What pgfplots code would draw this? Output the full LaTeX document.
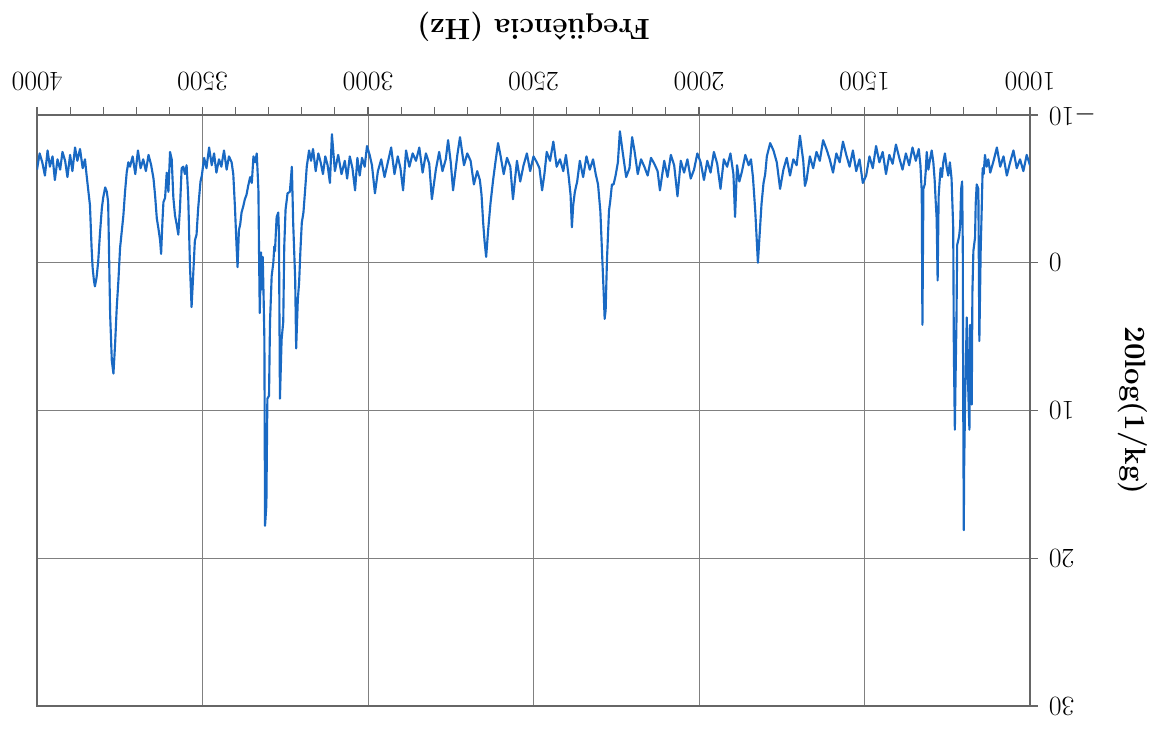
\documentclass[border=0pt]{standalone}
\usepackage{pgfplots}
\pgfplotsset{compat=1.18}
\usepackage{pgfplotstable}
\definecolor{lineblue}{RGB}{25,105,195}
\pgfplotstableread{
f y
1000 -6.6
1010 -7.3
1020 -6.2
1030 -7.0
1040 -6.4
1050 -7.6
1060 -6.8
1070 -5.9
1080 -7.2
1090 -6.5
1100 -7.8
1110 -6.9
1120 -6.1
1126 -7.0
1131 -6.5
1136 -7.3
1140 -6.0
1143 -6.4
1146 -3.5
1149 -0.8
1153 5.3
1156 -5.0
1161 -5.3
1164 -4.0
1166 -1.7
1171 -0.8
1174 2.0
1176 9.6
1179 6.0
1181 4.2
1183 11.3
1186 9.1
1191 3.7
1196 9.3
1199 14.0
1200 18.1
1202 8.0
1203 -1.0
1205 -5.5
1208 -5.0
1211 -2.5
1214 -1.8
1217 -1.5
1220 -1.2
1222 3.7
1225 8.0
1227 11.3
1230 6.0
1232 -2.4
1237 -5.7
1242 -6.8
1247 -5.9
1252 -6.5
1257 -7.4
1262 -6.8
1266 -5.8
1270 -6.4
1273 -5.5
1276 -4.5
1279 1.2
1282 -3.0
1285 -4.2
1288 -5.6
1292 -6.8
1297 -7.6
1302 -7.0
1307 -6.3
1312 -7.5
1315 -6.2
1318 -5.3
1322 -5.0
1325 4.2
1327 -4.8
1331 -6.6
1336 -7.7
1345 -6.9
1355 -7.8
1365 -6.6
1375 -7.4
1385 -6.3
1395 -7.1
1405 -8.0
1415 -6.7
1425 -7.3
1435 -6.0
1445 -7.5
1455 -6.8
1465 -7.9
1475 -6.4
1485 -7.2
1495 -5.9
1505 -5.4
1515 -7.0
1525 -6.2
1535 -7.6
1545 -6.5
1555 -7.3
1565 -8.2
1575 -6.8
1585 -7.4
1595 -6.1
1605 -7.0
1615 -7.7
1625 -8.3
1635 -6.9
1645 -7.5
1655 -6.4
1665 -7.2
1675 -5.6
1680 -5.2
1685 -6.9
1695 -8.6
1705 -6.6
1715 -7.0
1725 -5.9
1735 -7.1
1745 -6.3
1755 -5.0
1765 -6.8
1775 -7.6
1785 -8.1
1795 -7.2
1800 -6.0
1805 -5.4
1811 -4.0
1816 -2.2
1822 0.0
1825 -1.3
1830 -3.5
1837 -5.8
1843 -7.0
1850 -6.6
1860 -7.3
1870 -6.2
1878 -5.5
1885 -6.6
1891 -3.1
1896 -6.0
1905 -7.4
1915 -6.5
1925 -7.0
1935 -5.0
1945 -6.7
1955 -7.5
1965 -6.1
1975 -6.9
1985 -5.6
1995 -6.8
2005 -7.4
2015 -6.3
2025 -5.7
2035 -7.0
2045 -6.1
2055 -6.9
2065 -4.5
2075 -6.6
2085 -7.3
2095 -5.8
2105 -6.9
2118 -4.9
2125 -6.2
2135 -6.7
2145 -7.1
2155 -5.9
2165 -6.5
2175 -7.0
2185 -6.0
2195 -7.6
2202 -8.5
2210 -6.4
2220 -5.8
2230 -7.4
2239 -8.9
2245 -6.8
2252 -5.9
2258 -5.3
2263 -5.3
2268 -4.2
2272 -3.5
2278 -0.2
2282 3.2
2285 3.8
2288 2.0
2292 -0.2
2298 -3.5
2305 -5.3
2312 -6.0
2320 -7.0
2330 -6.3
2340 -7.2
2350 -5.8
2360 -6.9
2368 -5.5
2375 -4.8
2380 -3.9
2384 -2.4
2388 -4.6
2394 -5.9
2402 -7.3
2410 -6.2
2420 -7.0
2430 -6.5
2440 -8.2
2450 -6.9
2460 -7.5
2467 -6.0
2474 -4.9
2482 -6.4
2490 -6.8
2500 -7.2
2510 -6.2
2520 -7.4
2530 -6.6
2540 -5.5
2550 -6.9
2562 -4.3
2570 -6.5
2580 -7.1
2590 -6.0
2600 -7.3
2607 -8.1
2615 -6.8
2622 -5.6
2630 -4.0
2637 -2.2
2643 -0.4
2648 -1.5
2652 -2.7
2657 -4.6
2662 -5.6
2670 -6.2
2680 -5.3
2690 -6.9
2700 -7.4
2710 -6.6
2722 -8.5
2730 -7.3
2743 -4.9
2750 -6.8
2758 -8.3
2765 -7.0
2775 -6.2
2785 -7.5
2795 -6.3
2807 -4.3
2815 -6.7
2825 -7.4
2835 -6.1
2845 -7.8
2855 -6.9
2865 -7.4
2875 -6.5
2885 -7.6
2894 -4.9
2902 -6.4
2910 -7.2
2920 -6.0
2930 -7.8
2940 -6.8
2950 -5.8
2960 -7.0
2970 -6.2
2979 -4.7
2988 -6.6
2995 -7.3
3003 -7.9
3010 -6.5
3018 -7.1
3025 -5.9
3032 -7.1
3039 -4.9
3047 -6.4
3055 -7.2
3063 -5.7
3070 -6.9
3080 -6.0
3090 -7.3
3100 -6.2
3109 -8.7
3115 -5.4
3122 -6.6
3129 -7.2
3136 -6.0
3143 -6.8
3150 -7.4
3158 -6.2
3166 -7.7
3172 -6.9
3178 -7.6
3185 -6.5
3190 -4.9
3195 -3.4
3200 -2.7
3204 -0.9
3208 1.3
3212 2.5
3217 5.8
3220 1.1
3226 -2.7
3230 -6.5
3236 -4.8
3243 -4.7
3249 -3.6
3253 -1.1
3256 4.0
3261 5.2
3266 9.2
3269 -2.0
3271 -3.4
3276 -3.1
3281 -0.8
3283 -1.1
3286 0.0
3291 0.9
3296 4.0
3299 9.0
3304 9.2
3307 16.4
3311 17.8
3313 5.2
3315 2.7
3318 -0.4
3321 1.8
3323 -0.7
3327 3.4
3329 -0.4
3331 -4.9
3336 -7.4
3341 -6.8
3346 -7.2
3351 -5.4
3356 -5.8
3362 -5.2
3367 -4.6
3372 -4.3
3377 -3.8
3382 -3.4
3386 -2.6
3390 -2.2
3394 0.3
3397 -1.1
3402 -3.8
3407 -6.0
3412 -6.8
3420 -7.2
3427 -6.3
3435 -7.6
3443 -6.5
3450 -7.0
3458 -6.1
3465 -7.4
3472 -6.6
3480 -7.8
3488 -6.4
3495 -7.1
3502 -5.9
3506 -5.5
3513 -3.7
3518 -1.9
3523 -1.5
3528 0.8
3533 3.0
3538 0.1
3543 -4.4
3548 -6.6
3553 -6.0
3558 -6.5
3563 -6.4
3568 -3.7
3573 -1.9
3578 -2.6
3583 -3.2
3588 -4.4
3593 -7.0
3598 -7.5
3603 -4.8
3608 -6.1
3613 -4.4
3618 -4.1
3621 -2.8
3625 -0.6
3628 -1.5
3633 -2.3
3638 -3.0
3643 -4.5
3648 -5.7
3655 -6.6
3663 -7.3
3671 -6.2
3679 -7.0
3687 -6.4
3695 -7.6
3703 -6.0
3711 -7.2
3719 -6.5
3724 -6.8
3729 -6.1
3734 -4.8
3739 -3.2
3749 -1.0
3754 1.2
3759 3.0
3764 5.5
3769 7.5
3774 6.6
3779 3.5
3785 -4.1
3789 -4.8
3794 -5.1
3800 -4.4
3804 -3.7
3810 -1.9
3815 -0.1
3820 1.0
3825 1.6
3828 1.2
3832 0.3
3835 -1.0
3840 -3.9
3850 -5.9
3855 -7.0
3862 -6.4
3870 -7.7
3878 -6.9
3885 -7.8
3893 -6.2
3900 -7.3
3908 -5.8
3915 -6.9
3923 -7.5
3930 -6.3
3938 -7.0
3946 -5.6
3953 -7.2
3961 -6.5
3968 -7.6
3976 -5.9
3984 -6.8
3992 -7.4
4000 -6.3
}\datatable
\begin{document}
\begin{tikzpicture}
\useasboundingbox (-27.75pt,-18.75pt) rectangle (834.75pt,529.5pt);
\begin{axis}[
  at={(372.375pt,221.625pt)}, anchor=center,
  scale only axis, width=744.75pt, height=443.25pt,
  xmin=1000, xmax=4000, ymin=-10, ymax=30,
  x dir=reverse, y dir=reverse,
  xtick={1000,1500,...,4000}, ytick={-10,0,10,20,30},
  minor x tick num=4,
  scaled x ticks=false,
  /pgf/number format/1000 sep={},
  grid=major,
  major grid style={draw=black!50, line width=0.6pt},
  axis line style={draw=black!60, line width=0.8pt},
  every tick/.style={draw=black!60, line width=0.8pt},
  tick align=outside,
  major tick length=6pt, minor tick length=6pt,
  xtick pos=upper, ytick pos=upper,
  xticklabel pos=upper, yticklabel pos=upper,
  xticklabel style={font=\fontsize{22}{26}\selectfont, rotate=180, anchor=north, inner sep=0pt},
  yticklabel style={font=\fontsize{22}{26}\selectfont, rotate=180, anchor=east, inner sep=0pt},
  xticklabel shift=12pt, yticklabel shift=8pt,
  xlabel={Freqüência (Hz)},
  ylabel={20log(1/kg)},
  xlabel style={at={(axis description cs:0.5,1.1235)}, anchor=north, rotate=180, inner sep=0pt, font=\fontsize{22}{26}\selectfont\bfseries},
  ylabel style={at={(axis description cs:1.0886,0.5)}, anchor=south, rotate=180, inner sep=0pt, font=\fontsize{22}{26}\selectfont\bfseries},
]
\addplot[lineblue, line width=1.6pt, mark=none, line join=round] table[x=f,y=y]{\datatable};
\end{axis}
\end{tikzpicture}
\end{document}
